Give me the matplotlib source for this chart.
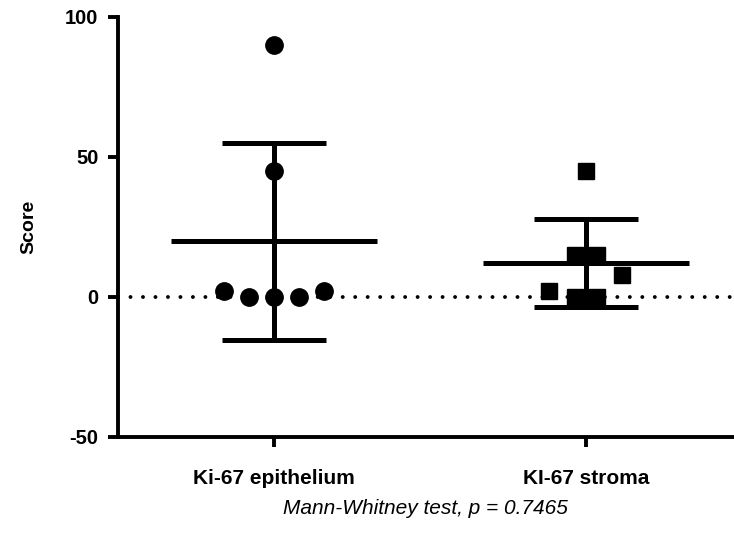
import numpy as np
import matplotlib
matplotlib.use("Agg")
import matplotlib.pyplot as plt

plt.rcParams['font.family'] = ['Liberation Sans', 'DejaVu Sans']

# data
groups = ["Ki-67 epithelium", "KI-67 stroma"]
epithelium = [90, 45, 2, 2, 0, 0, 0]
stroma = [45, 15, 15, 8, 2, 0, 0]
y_ticks = [-50, 0, 50, 100]
footnote = "Mann-Whitney test, p = 0.7465"

# horizontal spread of the points (scatter layout, category units)
epi_dx = [0, 0, -0.16, 0.16, -0.08, 0, 0.08]
str_dx = [0, -0.034, 0.034, 0.115, -0.12, -0.034, 0.034]

fig = plt.figure(figsize=(7.34, 5.46), dpi=100)
ax = fig.add_axes([118 / 734, 109 / 546, 616 / 734, 420 / 546])

ax.axhline(0, color='black', lw=2.8, linestyle=(0, (0.01, 3.2)),
           dash_capstyle='round', zorder=1)

for i, (vals, dx, mk) in enumerate([(epithelium, epi_dx, 'o'), (stroma, str_dx, 's')]):
    vals = np.array(vals, dtype=float)
    ax.plot(i + np.array(dx), vals, linestyle='none', marker=mk, ms=12.5 if mk == 'o' else 12,
            color='black', zorder=3, clip_on=False)
    m = vals.mean()
    sd = vals.std(ddof=1)
    ax.hlines(m, i - 0.33, i + 0.33, color='black', lw=3.6, zorder=4)
    ax.vlines(i, m - sd, m + sd, color='black', lw=3.6, zorder=4)
    ax.hlines([m - sd, m + sd], i - 0.167, i + 0.167, color='black', lw=3.6, zorder=4)

ax.set_xlim(-0.5, 1.474)
ax.set_ylim(-50, 100)
ax.set_yticks(y_ticks)
ax.set_yticklabels([str(t) for t in y_ticks], fontsize=14.5, fontweight='bold')
ax.set_xticks([0, 1])
ax.set_xticklabels(groups, fontsize=15, fontweight='bold')
ax.tick_params(axis='both', width=2.8, length=7, pad=7)
ax.tick_params(axis='x', pad=16)

for s in ['top', 'right']:
    ax.spines[s].set_visible(False)
for s in ['left', 'bottom']:
    ax.spines[s].set_linewidth(2.8)

ax.set_ylabel("Score", fontsize=14, fontweight='bold', labelpad=20)
fig.text(425 / 734, 1 - 508 / 546, footnote, ha='center', va='center',
         fontsize=15, style='italic')

fig.savefig("out.png", dpi=100)
